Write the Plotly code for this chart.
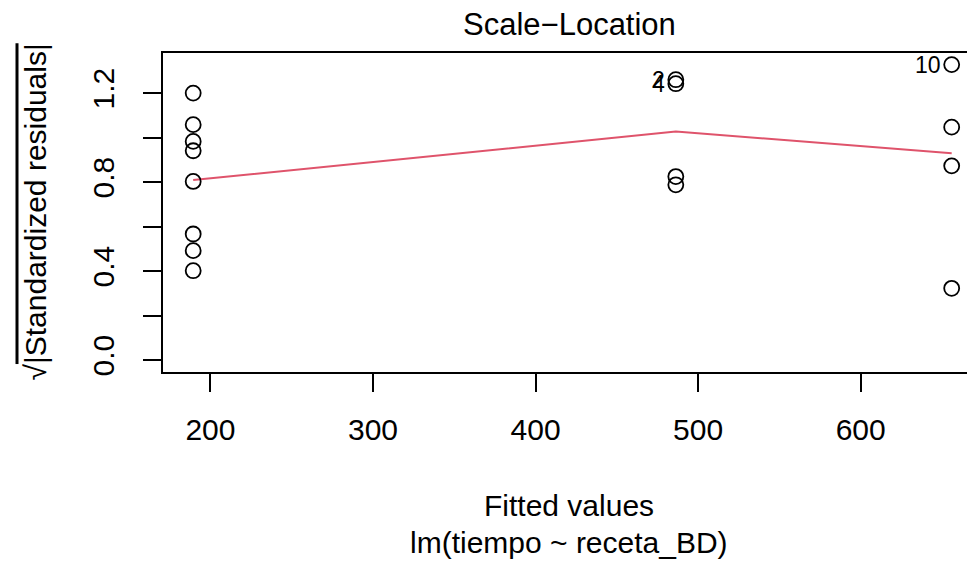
import plotly.graph_objects as go

# ---- data ----
fitted = [189.4] * 8 + [486.3] * 4 + [656.0] * 4
sqrt_std_resid = [1.200, 1.058, 0.983, 0.941, 0.803, 0.567, 0.492, 0.402,
                  1.260, 1.242, 0.825, 0.788,
                  1.328, 1.047, 0.873, 0.323]
smooth_x = [189.4, 486.3, 656.0]
smooth_y = [0.809, 1.027, 0.930]
id_labels = ["2", "4", "10"]
id_x = [486.3, 486.3, 656.0]
id_y = [1.260, 1.242, 1.328]
x_ticks = [200, 300, 400, 500, 600]
y_ticks = [0.0, 0.2, 0.4, 0.6, 0.8, 1.0, 1.2]
y_ticktext = ["0.0", "", "0.4", "", "0.8", "", "1.2"]

FONT = "Liberation Sans, Arial, Helvetica, sans-serif"
OFF = 8  # page body margin
W, H = 975 - OFF, 567 - OFF
ML, MR, MT, MB = 163 - OFF, 0, 53 - OFF, 567 - 372

fig = go.Figure()
fig.add_trace(go.Scatter(
    x=smooth_x, y=smooth_y, mode="lines",
    line=dict(color="#DF536B", width=2), hoverinfo="skip", showlegend=False))
fig.add_trace(go.Scatter(
    x=fitted, y=sqrt_std_resid, mode="markers",
    marker=dict(symbol="circle-open", size=15, color="black",
                line=dict(color="black", width=1.8)),
    showlegend=False))

for lab, xv, yv in zip(id_labels, id_x, id_y):
    fig.add_annotation(x=xv, y=yv, text=lab, showarrow=False,
                       xanchor="right", yanchor="middle", xshift=-9,
                       font=dict(family=FONT, size=23, color="black"))

ph = H - MT - MB
def py(p):
    # p: pixel row in window coordinates
    return (H - MB - (p - OFF)) / ph

fig.add_annotation(xref="paper", yref="paper", x=0.5, y=py(25), text="Scale\u2212Location",
                   showarrow=False, xanchor="center", yanchor="middle",
                   font=dict(family=FONT, size=31, color="black"))
fig.add_annotation(xref="paper", yref="paper", x=0.5, y=py(505), text="Fitted values",
                   showarrow=False, xanchor="center", yanchor="middle",
                   font=dict(family=FONT, size=30, color="black"))
fig.add_annotation(xref="paper", yref="paper", x=0.5, y=py(542), text="lm(tiempo ~ receta_BD)",
                   showarrow=False, xanchor="center", yanchor="middle",
                   font=dict(family=FONT, size=30, color="black"))
fig.add_annotation(xref="paper", yref="paper", x=0, xshift=-(163 - 35), y=0.5,
                   text="\u221a<span style=\"text-decoration:overline\">|Standardized residuals|</span>",
                   textangle=-90, showarrow=False, xanchor="center", yanchor="middle",
                   font=dict(family=FONT, size=30, color="black"))

fig.update_layout(
    width=W, height=H,
    margin=dict(l=ML, r=MR, t=MT, b=MB, autoexpand=False),
    paper_bgcolor="white", plot_bgcolor="white",
    font=dict(family=FONT, size=30, color="black"),
    showlegend=False,
)
fig.update_xaxes(range=[170.83, 670.34], tickvals=x_ticks,
                 showgrid=False, zeroline=False,
                 showline=True, mirror=True, linecolor="black", linewidth=1.5,
                 ticks="outside", ticklen=18, tickwidth=1.5, tickcolor="black",
                 ticklabelstandoff=12,
                 tickfont=dict(family=FONT, size=30, color="black"))
fig.update_yaxes(range=[-0.053, 1.380], tickvals=y_ticks, ticktext=y_ticktext,
                 showgrid=False, zeroline=False,
                 showline=True, mirror=False, linecolor="black", linewidth=1.5,
                 ticks="outside", ticklen=18, tickwidth=1.5, tickcolor="black",
                 tickangle=-90, ticklabelstandoff=17,
                 tickfont=dict(family=FONT, size=30, color="black"))

fig.write_html("out.html")
